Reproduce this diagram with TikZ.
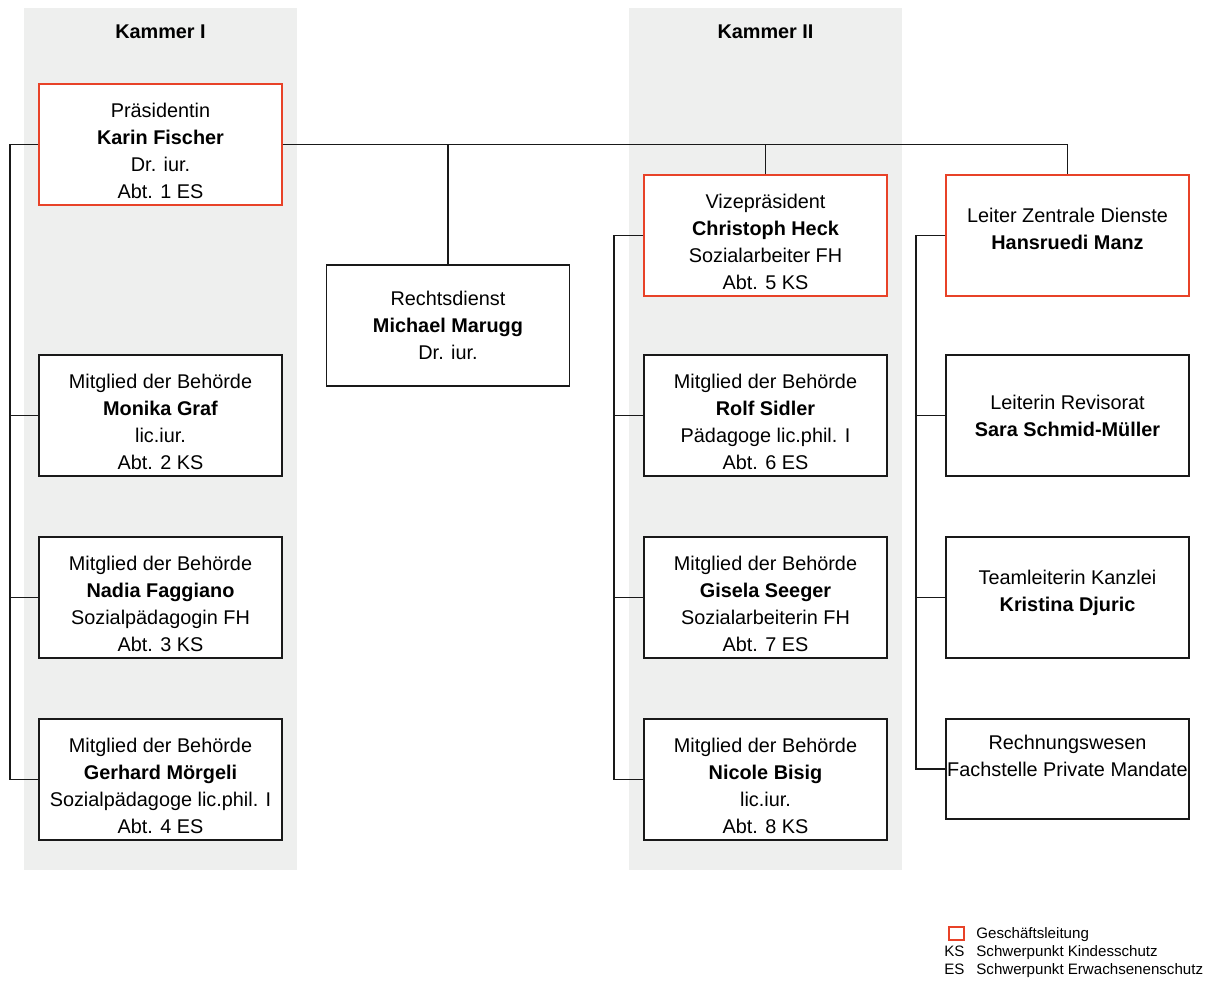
\documentclass[tikz,border=0pt]{standalone}
\usepackage{fontspec}
\setmainfont{Liberation Sans}
\usepackage{tikz}
\usetikzlibrary{positioning}
\definecolor{glred}{RGB}{232,66,40}
\definecolor{kammergray}{RGB}{238,239,238}
\newcommand\toprule{\rule{0pt}{15.4pt}}

\begin{document}
\begin{tikzpicture}[x=0.02cm,y=-0.02cm,
    font=\fontsize{11.3pt}{15.3pt}\selectfont,
    box/.style={draw=black!90, rectangle, line width=0.7pt, fill=white, align=center,
        minimum width=4.86cm, minimum height=2.42cm, inner sep=0pt},
    gl/.style={box, draw=glred},
    upper/.style={execute at end node={\rule[-8pt]{0pt}{8pt}}},
    bus/.style={draw=black!90, line width=0.7pt},
    legend/.style={font=\fontsize{8.6pt}{10pt}\selectfont, anchor=base west, inner sep=0pt}]
        \useasboundingbox (0,0) rectangle (1209,981);
        \fill[kammergray] (24,8) rectangle (297,870);
        \fill[kammergray] (629,8) rectangle (902,870);
        \node (kammer1) at (160.5,32) {\textbf{Kammer I}};
        \node (kammer2) at (765.5,32) {\textbf{Kammer II}};

        \node [gl] (fischer) at (160.5,144.5) {\toprule Präsidentin\\\textbf{Karin Fischer}\\Dr. iur.\\Abt. 1 ES};
        \node [box] (graf) at (160.5,415.5) {\toprule Mitglied der Behörde\\\textbf{Monika Graf}\\lic.iur.\\Abt. 2 KS};
        \node [box] (faggiano) at (160.5,597.5) {\toprule Mitglied der Behörde\\\textbf{Nadia Faggiano}\\Sozialpädagogin FH\\Abt. 3 KS};
        \node [box] (moergeli) at (160.5,779.5) {\toprule Mitglied der Behörde\\\textbf{Gerhard Mörgeli}\\Sozialpädagoge lic.phil. I\\Abt. 4 ES};

        \node [box] (recht) at (448,325.5) {Rechtsdienst\\\textbf{Michael Marugg}\\Dr. iur.};

        \node [gl] (heck) at (765.5,235.5) {\toprule Vizepräsident\\\textbf{Christoph Heck}\\Sozialarbeiter FH\\Abt. 5 KS};
        \node [box] (sidler) at (765.5,415.5) {\toprule Mitglied der Behörde\\\textbf{Rolf Sidler}\\Pädagoge lic.phil. I\\Abt. 6 ES};
        \node [box] (seeger) at (765.5,597.5) {\toprule Mitglied der Behörde\\\textbf{Gisela Seeger}\\Sozialarbeiterin FH\\Abt. 7 ES};
        \node [box] (bisig) at (765.5,779.5) {\toprule Mitglied der Behörde\\\textbf{Nicole Bisig}\\lic.iur.\\Abt. 8 KS};

        \node [gl,upper] (manz) at (1067.5,235.5) {Leiter Zentrale Dienste\\\textbf{Hansruedi Manz}};
        \node [box] (schmid) at (1067.5,415.5) {Leiterin Revisorat\\\textbf{Sara Schmid-Müller}};
        \node [box,upper] (djuric) at (1067.5,597.5) {Teamleiterin Kanzlei\\\textbf{Kristina Djuric}};
        \node [box, minimum height=2cm] (rechnung) at (1067.5,769) {Rechnungswesen\\Fachstelle Private Mandate\\~};

        \coordinate (bus1) at (10,0);
        \coordinate (bus2) at (614,0);
        \coordinate (bus3) at (916,0);

        \draw [bus] (fischer.east) -| (manz.north);
        \draw [bus] (recht.north) -- (recht.north |- fischer.east);
        \draw [bus] (heck.north) -- (heck.north |- fischer.east);

        \draw [bus] (fischer.west) -| (bus1 |- moergeli.west) -- (moergeli.west);
        \draw [bus] (graf.west) -- (bus1 |- graf.west);
        \draw [bus] (faggiano.west) -- (bus1 |- faggiano.west);

        \draw [bus] (heck.west) -| (bus2 |- bisig.west) -- (bisig.west);
        \draw [bus] (sidler.west) -- (bus2 |- sidler.west);
        \draw [bus] (seeger.west) -- (bus2 |- seeger.west);

        \draw [bus] (manz.west) -| (bus3 |- rechnung.west) -- (rechnung.west);
        \draw [bus] (schmid.west) -- (bus3 |- schmid.west);
        \draw [bus] (djuric.west) -- (bus3 |- djuric.west);

        \draw [glred, line width=0.6pt] (949,927) rectangle (964,940);
        \node [legend] (gltext) at (976,938) {Geschäftsleitung};
        \node [legend] (kskey) at (944,956) {KS};
        \node [legend] (kstext) at (976,956) {Schwerpunkt Kindesschutz};
        \node [legend] (eskey) at (944,974) {ES};
        \node [legend] (estext) at (976,974) {Schwerpunkt Erwachsenenschutz};
\end{tikzpicture}
\end{document}
